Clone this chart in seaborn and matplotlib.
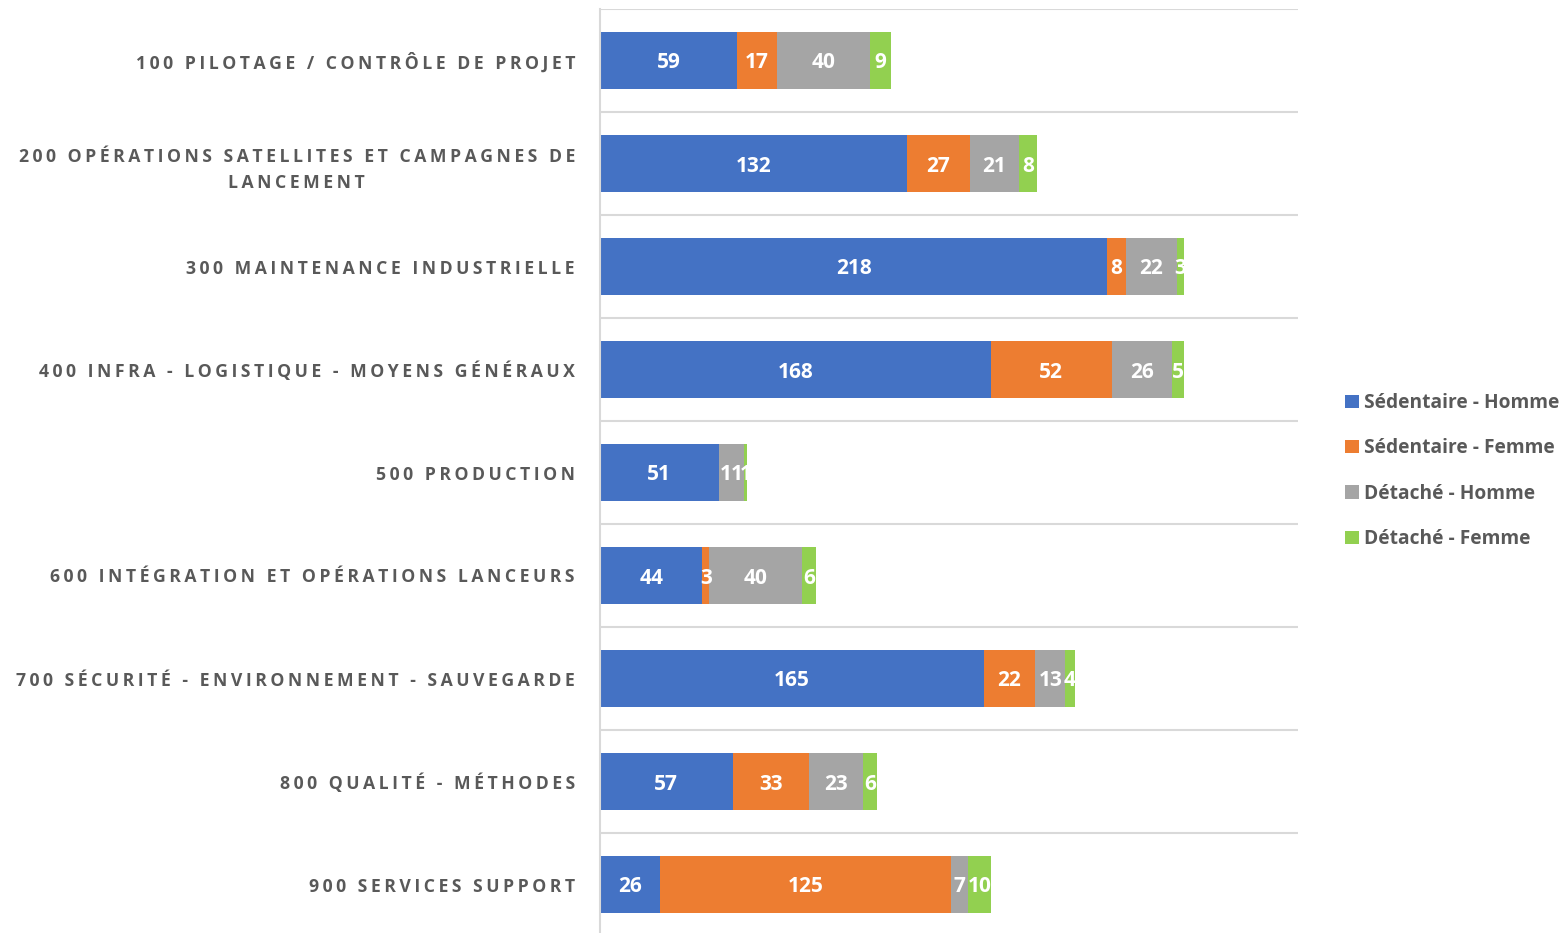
import numpy as np
import pandas as pd
import seaborn as sns
import matplotlib.pyplot as plt
from matplotlib.patches import Patch

categories = [
    "100 PILOTAGE / CONTRÔLE DE PROJET",
    "200 OPÉRATIONS SATELLITES ET CAMPAGNES DE\nLANCEMENT",
    "300 MAINTENANCE INDUSTRIELLE",
    "400 INFRA - LOGISTIQUE - MOYENS GÉNÉRAUX",
    "500 PRODUCTION",
    "600 INTÉGRATION ET OPÉRATIONS LANCEURS",
    "700 SÉCURITÉ - ENVIRONNEMENT - SAUVEGARDE",
    "800 QUALITÉ - MÉTHODES",
    "900 SERVICES SUPPORT",
]
sed_homme = [59, 132, 218, 168, 51, 44, 165, 57, 26]
sed_femme = [17, 27, 8, 52, 0, 3, 22, 33, 125]
det_homme = [40, 21, 22, 26, 11, 40, 13, 23, 7]
det_femme = [9, 8, 3, 5, 1, 6, 4, 6, 10]

series_names = ["Sédentaire - Homme", "Sédentaire - Femme", "Détaché - Homme", "Détaché - Femme"]
colors = ["#4472C4", "#ED7D31", "#A5A5A5", "#92D050"]
fonts = ["Open Sans", "DejaVu Sans"]


def spaced(s):
    # emulate the letter spacing of the original axis labels
    return "\n".join("\u2009".join(line) for line in s.split("\n"))


series = [sed_homme, sed_femme, det_homme, det_femme]
cum = np.cumsum(np.array(series), axis=0)
df = pd.DataFrame({"cat": categories})

fig = plt.figure(figsize=(15.68, 9.33), dpi=100)
ax = fig.add_axes([600 / 1568, -3 / 933, 698 / 1568, 927 / 933])

# stacked bars drawn as overlapping cumulative totals
for i in range(3, -1, -1):
    sns.barplot(x=cum[i], y=df["cat"], orient="h", color=colors[i],
                saturation=1, width=0.56, ax=ax, linewidth=0)

# segment labels
for i, vals in enumerate(series):
    for j, v in enumerate(vals):
        if v == 0:
            continue
        ax.text(cum[i][j] - v / 2, j, str(v), ha="center", va="center_baseline",
                color="white", fontsize=15, fontweight="bold", family=fonts)

ax.set_xlim(0, 300)
ax.set_ylim(len(categories) - 0.5, -0.5)
ax.set_xlabel("")
ax.set_ylabel("")
ax.set_xticks([])
ax.set_yticks(range(len(categories)))
ax.set_yticklabels([spaced(c) for c in categories], fontsize=12.7, fontweight="bold",
                   color="#595959", family=fonts, multialignment="center",
                   linespacing=1.6, va="center_baseline")
ax.tick_params(axis="y", length=0, pad=18)

for sp in ["top", "right", "bottom"]:
    ax.spines[sp].set_visible(False)
ax.spines["left"].set_color("#D9D9D9")
ax.spines["left"].set_linewidth(1.5)

for b in np.arange(-0.5, len(categories), 1.0):
    ax.axhline(b, color="#D9D9D9", linewidth=1.5, zorder=0)

handles = [Patch(facecolor=c, edgecolor="none") for c in colors]
leg = fig.legend(handles, series_names, loc="center left",
                 bbox_to_anchor=(1328 / 1568, 1 - 471 / 933), frameon=False,
                 prop={"family": fonts, "weight": "bold", "size": 13.8},
                 handlelength=0.7, handleheight=0.7, handletextpad=0.3, labelspacing=1.32)
for t in leg.get_texts():
    t.set_color("#595959")

fig.savefig("out.png", dpi=100)
